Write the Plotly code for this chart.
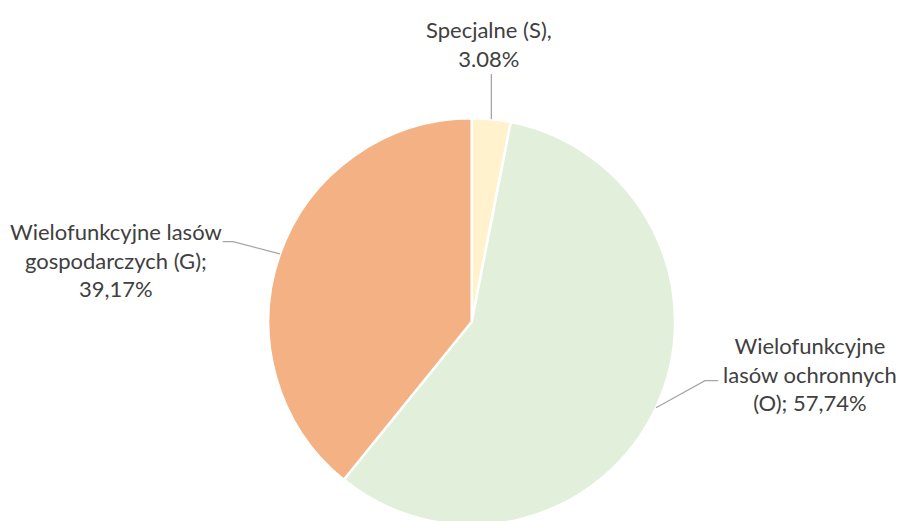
import math
import plotly.graph_objects as go

# Udział kategorii lasów (w %), kolejność zgodnie z ruchem wskazówek zegara od godziny 12
labels = ["Specjalne (S)", "Wielofunkcyjne lasów ochronnych (O)", "Wielofunkcyjne lasów gospodarczych (G)"]
values = [3.08, 57.74, 39.17]
label_texts = [
    "Specjalne (S),<br>3.08%",
    "Wielofunkcyjne<br>lasów ochronnych<br>(O); 57,74%",
    "Wielofunkcyjne lasów<br>gospodarczych (G);<br>39,17%",
]
colors = ["#FFF2CC", "#E2EFDA", "#F4B183"]

W, H = 901, 526
# pie placement (pixels)
CX, CY, R = 471.7, 321.7, 203.4


def px(x, y):
    """pixel position -> paper coordinates"""
    return x / W, 1 - y / H


x0, y_top = px(CX - R, CY - R)
x1, y_bot = px(CX + R, CY + R)

fig = go.Figure(
    go.Pie(
        labels=labels,
        values=values,
        sort=False,
        direction="clockwise",
        rotation=0,
        marker=dict(colors=colors, line=dict(color="white", width=2.5)),
        textinfo="none",
        hoverinfo="label+percent",
        showlegend=False,
        domain=dict(x=[x0, x1], y=[y_bot, y_top]),
    )
)

# label block centres and leader-line elbows (pixels)
label_pos = [(489, 43.5), (809.5, 374), (116, 259.5)]
elbows = [
    [(491.5, 74)],
    [(705, 380.7), (718.3, 380.7)],
    [(233, 241.7), (222.7, 241.7)],
]

total = sum(values)
cum = 0.0
shapes = []
annotations = []
for v, txt, (lx, ly), elbow in zip(values, label_texts, label_pos, elbows):
    mid = (cum + v / 2) / total * 2 * math.pi
    cum += v
    ex = CX + R * math.sin(mid)
    ey = CY - R * math.cos(mid)
    if len(elbow) == 1:
        # vertical leader straight up from the slice edge
        elbow = [(ex, elbow[0][1])]
    pts = [(ex, ey)] + elbow
    path = ""
    for i, (a, b) in enumerate(pts):
        pa, pb = px(a, b)
        path += ("M" if i == 0 else " L") + f"{pa:.5f},{pb:.5f}"
    shapes.append(dict(type="path", xref="paper", yref="paper", path=path,
                       line=dict(color="#A6A6A6", width=1.3)))
    ax, ay = px(lx, ly)
    annotations.append(dict(x=ax, y=ay, xref="paper", yref="paper", text=txt,
                            showarrow=False, xanchor="center", yanchor="middle",
                            align="center",
                            font=dict(family="Lato", size=22, color="#404040")))

fig.update_layout(
    width=W,
    height=H,
    margin=dict(l=0, r=0, t=0, b=0),
    paper_bgcolor="white",
    plot_bgcolor="white",
    shapes=shapes,
    annotations=annotations,
)

fig.write_html(
    "out.html",
    post_script="document.body.style.margin='0';document.body.style.overflow='hidden';"
                "document.documentElement.style.overflow='hidden';",
)
